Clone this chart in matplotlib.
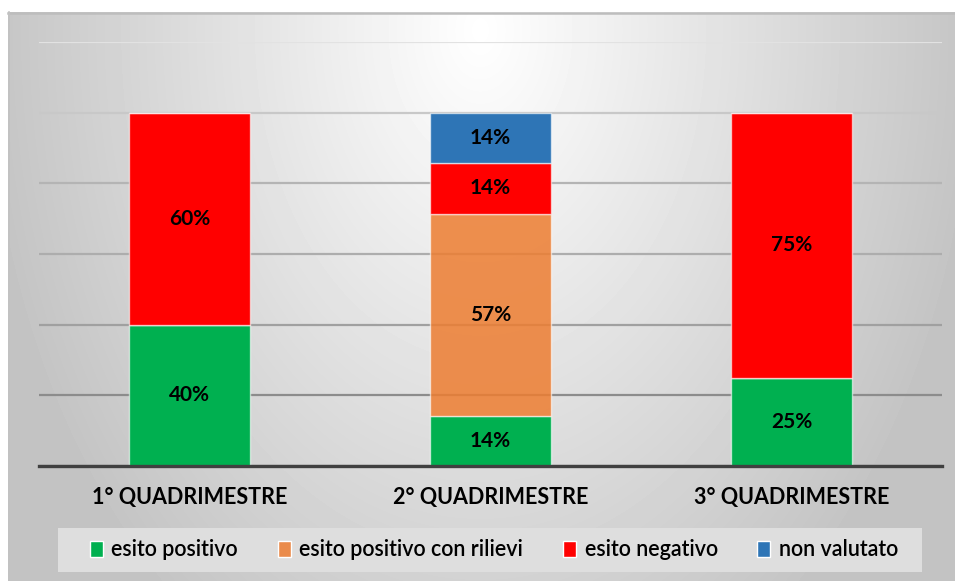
import numpy as np
import matplotlib.pyplot as plt
from matplotlib.patches import Rectangle
from matplotlib.lines import Line2D

plt.rcParams['font.family'] = ['Lato', 'DejaVu Sans']

categories = ['1° QUADRIMESTRE', '2° QUADRIMESTRE', '3° QUADRIMESTRE']
esito_positivo = [40, 14.29, 25]
esito_positivo_rilievi = [0, 57.14, 0]
esito_negativo = [60, 14.29, 75]
non_valutato = [0, 14.29, 0]

series = [
    ('esito positivo', esito_positivo, (0.0, 0.690, 0.314, 1.0)),
    ('esito positivo con rilievi', esito_positivo_rilievi, (0.929, 0.490, 0.192, 0.85)),
    ('esito negativo', esito_negativo, (1.0, 0.0, 0.0, 1.0)),
    ('non valutato', non_valutato, (0.180, 0.459, 0.714, 1.0)),
]

W, H = 955, 581
fig = plt.figure(figsize=(W / 100, H / 100), dpi=100)

# grey shaded backdrop, light towards the top middle
xx, yy = np.meshgrid(np.arange(8, W), np.arange(12, H))
d = np.sqrt(((xx - 480) / 520.0) ** 2 + ((yy - 30) / 760.0) ** 2)
shade = np.clip(255 - 62 * d, 196, 255)
bg = fig.add_axes([8 / W, 0, (W - 8) / W, (H - 12) / H])
bg.imshow(shade, cmap='gray', vmin=0, vmax=255, aspect='auto', interpolation='bilinear')
bg.axis('off')
fig.add_artist(Line2D([8 / W, 1], [1 - 12.5 / H] * 2, color='#BDBDBD', lw=1.8))
fig.add_artist(Line2D([8.5 / W] * 2, [0, 1 - 12 / H], color='#C2C2C2', lw=1.2))

ax = fig.add_axes([39 / W, 115 / H, 903 / W, 424 / H])
ax.patch.set_alpha(0)

x = np.arange(len(categories))
bottom = np.zeros(len(categories))
for name, vals, col in series:
    vals = np.array(vals, dtype=float)
    ax.bar(x, vals, 0.4, bottom=bottom, color=col, edgecolor=(1, 1, 1, 0.6),
           linewidth=1.0, label=name, zorder=3)
    for xi, b, v in zip(x, bottom, vals):
        if v > 0:
            ax.text(xi, b + v / 2, '%.0f%%' % v, ha='center', va='center',
                    fontsize=15, fontweight='bold', color='black', zorder=4)
    bottom += vals

ax.set_xlim(-0.5, 2.5)
ax.set_ylim(0, 120)
ax.set_yticks(np.arange(0, 121, 20))
ax.yaxis.grid(True, linewidth=1.6)
ax.set_axisbelow(True)
grid_cols = ['#8C8C8C', '#8C8C8C', '#A0A0A0', '#ADADAD', '#B4B4B4', '#C8C8C8', '#E2E2E2']
for gl, c in zip(ax.get_ygridlines(), grid_cols):
    gl.set_color(c)
ax.tick_params(axis='y', length=0, labelleft=False)
for s in ['top', 'left', 'right']:
    ax.spines[s].set_visible(False)
ax.spines['bottom'].set_color('#404040')
ax.spines['bottom'].set_linewidth(2.4)
ax.spines['bottom'].set_zorder(5)
ax.set_xticks(x)
ax.set_xticklabels(categories, fontsize=15.5, fontweight='bold')
ax.tick_params(axis='x', length=0, pad=15)

# legend band
fig.add_artist(Rectangle((58 / W, 1 - 572 / H), 864 / W, 44 / H,
                         transform=fig.transFigure, facecolor='#DEDEDE',
                         edgecolor='none', zorder=1))
handles = [Rectangle((0, 0), 1, 1, facecolor=c, edgecolor='white', lw=1.0)
           for _, _, c in series]
fig.legend(handles, [n for n, _, _ in series], ncol=4, loc='center',
           bbox_to_anchor=(494 / W, 1 - 550 / H), frameon=False,
           prop={'size': 15.5, 'weight': 'semibold'},
           handlelength=0.6, handleheight=0.75, handletextpad=0.4,
           columnspacing=1.85)

fig.savefig('out.png', dpi=100)
